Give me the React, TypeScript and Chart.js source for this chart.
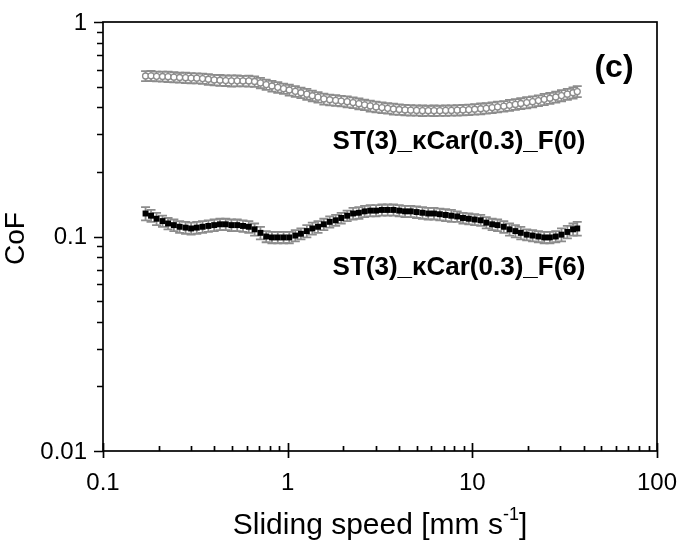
import React, { useEffect, useRef } from "react";
import { Chart, registerables } from "chart.js";

Chart.register(...registerables);

// ---- data ----
const speeds = [
  0.17, 0.182, 0.195, 0.21, 0.225, 0.242, 0.26, 0.28, 0.3, 0.322, 0.346, 0.372, 0.4, 0.43, 0.462, 0.496, 0.533,
  0.573, 0.616, 0.662, 0.712, 0.765, 0.822, 0.884, 0.95, 1.02, 1.1, 1.18, 1.27, 1.36, 1.46, 1.57, 1.69, 1.82,
  1.95, 2.1, 2.26, 2.43, 2.61, 2.8, 3.01, 3.24, 3.48, 3.74, 4.02, 4.32, 4.64, 4.99, 5.37, 5.77, 6.2, 6.67, 7.17,
  7.7, 8.28, 8.9, 9.57, 10.3, 11.1, 11.9, 12.8, 13.7, 14.8, 15.9, 17.1, 18.3, 19.7, 21.2, 22.8, 24.5, 26.3, 28.3,
  30.4, 32.7, 35.1, 37.0,
];
const cofF0 = [
  0.56, 0.561, 0.558, 0.557, 0.556, 0.553, 0.551, 0.55, 0.548, 0.547, 0.545, 0.541, 0.537, 0.535, 0.533, 0.532,
  0.532, 0.531, 0.531, 0.528, 0.52, 0.511, 0.503, 0.496, 0.489, 0.482, 0.475, 0.468, 0.461, 0.453, 0.446, 0.438,
  0.434, 0.431, 0.428, 0.425, 0.421, 0.416, 0.411, 0.406, 0.402, 0.399, 0.396, 0.393, 0.391, 0.389, 0.388, 0.387,
  0.386, 0.386, 0.386, 0.386, 0.387, 0.387, 0.388, 0.389, 0.39, 0.392, 0.394, 0.396, 0.399, 0.402, 0.405, 0.409,
  0.413, 0.417, 0.421, 0.425, 0.43, 0.436, 0.441, 0.447, 0.454, 0.461, 0.468, 0.474,
];
const errF0 = [
  0.03, 0.031, 0.029, 0.03, 0.031, 0.03, 0.029, 0.031, 0.03, 0.029, 0.03, 0.031, 0.03, 0.031, 0.03, 0.032,
  0.031, 0.03, 0.031, 0.03, 0.029, 0.028, 0.029, 0.028, 0.027, 0.028, 0.027, 0.026, 0.027, 0.026, 0.025, 0.026,
  0.025, 0.025, 0.024, 0.025, 0.024, 0.024, 0.023, 0.024, 0.023, 0.023, 0.022, 0.023, 0.022, 0.022, 0.022, 0.021,
  0.022, 0.021, 0.022, 0.021, 0.022, 0.021, 0.022, 0.022, 0.022, 0.022, 0.023, 0.022, 0.023, 0.023, 0.023, 0.024,
  0.024, 0.024, 0.025, 0.025, 0.025, 0.026, 0.026, 0.026, 0.027, 0.027, 0.028, 0.028,
];
const cofF6 = [
  0.128, 0.125, 0.121, 0.118, 0.115, 0.113, 0.111, 0.11, 0.109, 0.11, 0.111, 0.112, 0.113, 0.114, 0.114, 0.113,
  0.113, 0.112, 0.111, 0.108, 0.104, 0.1, 0.099, 0.099, 0.099, 0.099, 0.101, 0.103, 0.106, 0.109, 0.111, 0.114,
  0.117, 0.119, 0.122, 0.125, 0.128, 0.129, 0.131, 0.132, 0.132, 0.133, 0.133, 0.133, 0.132, 0.131, 0.131, 0.13,
  0.129, 0.128, 0.128, 0.127, 0.126, 0.125, 0.124, 0.122, 0.121, 0.12, 0.119, 0.116, 0.114, 0.113, 0.111, 0.108,
  0.106, 0.104, 0.102, 0.101, 0.1, 0.099, 0.099, 0.1, 0.102, 0.105, 0.108, 0.109,
];
const errF6 = [
  0.009, 0.008, 0.008, 0.007, 0.007, 0.007, 0.007, 0.007, 0.007, 0.007, 0.007, 0.007, 0.007, 0.007, 0.007, 0.007,
  0.007, 0.007, 0.007, 0.007, 0.007, 0.006, 0.006, 0.006, 0.006, 0.006, 0.006, 0.006, 0.007, 0.007, 0.007, 0.007,
  0.007, 0.007, 0.007, 0.007, 0.008, 0.008, 0.008, 0.008, 0.008, 0.008, 0.008, 0.008, 0.008, 0.008, 0.008, 0.008,
  0.008, 0.008, 0.008, 0.008, 0.008, 0.008, 0.007, 0.007, 0.007, 0.007, 0.007, 0.007, 0.007, 0.007, 0.007, 0.007,
  0.007, 0.007, 0.006, 0.006, 0.006, 0.006, 0.006, 0.006, 0.007, 0.007, 0.007, 0.008,
];

const xTickValues = [0.1, 1, 10, 100];
const xTickLabels = ["0.1", "1", "10", "100"];
const yTickValues = [0.01, 0.1, 1];
const yTickLabels = ["0.01", "0.1", "1"];
const minorMultipliers = [2, 3, 4, 5, 6, 7, 8, 9];

const labelF0 = "ST(3)_\u03BACar(0.3)_F(0)";
const labelF6 = "ST(3)_\u03BACar(0.3)_F(6)";
const panelLabel = "(c)";
const xTitleMain = "Sliding speed [mm s";
const xTitleSup = "-1";
const xTitleEnd = "]";
const yTitle = "CoF";

const FONT = '"Liberation Sans", Arial, sans-serif';
const ERR_COLOR = "#8c8c8c";

const errorBarPlugin = {
  id: "errorBars",
  beforeDatasetsDraw(chart: any) {
    const ctx = chart.ctx;
    const xs = chart.scales.x;
    const ys = chart.scales.y;
    ctx.save();
    ctx.strokeStyle = ERR_COLOR;
    ctx.lineWidth = 1.8;
    chart.data.datasets.forEach((ds: any) => {
      const errs: number[] = ds.errors || [];
      ds.data.forEach((p: any, i: number) => {
        const e = errs[i] || 0;
        const px = xs.getPixelForValue(p.x);
        const top = ys.getPixelForValue(p.y + e);
        const bot = ys.getPixelForValue(p.y - e);
        ctx.beginPath();
        ctx.moveTo(px, top);
        ctx.lineTo(px, bot);
        ctx.moveTo(px - 4.5, top);
        ctx.lineTo(px + 4.5, top);
        ctx.moveTo(px - 4.5, bot);
        ctx.lineTo(px + 4.5, bot);
        ctx.stroke();
      });
    });
    ctx.restore();
  },
};

const axesPlugin = {
  id: "customAxes",
  afterDatasetsDraw(chart: any) {
    const ctx = chart.ctx;
    const xs = chart.scales.x;
    const ys = chart.scales.y;
    const { left, right, top, bottom } = chart.chartArea;
    ctx.save();
    ctx.strokeStyle = "#000";
    ctx.fillStyle = "#000";
    ctx.lineWidth = 1.7;
    ctx.strokeRect(left, top, right - left, bottom - top);

    // y ticks (outward)
    ctx.beginPath();
    yTickValues.forEach((v) => {
      const py = Math.round(ys.getPixelForValue(v)) + 0.5;
      ctx.moveTo(left - 9, py);
      ctx.lineTo(left, py);
    });
    yTickValues.slice(0, -1).forEach((d) => {
      minorMultipliers.forEach((m) => {
        const py = Math.round(ys.getPixelForValue(d * m)) + 0.5;
        ctx.moveTo(left - 6, py);
        ctx.lineTo(left, py);
      });
    });
    // x ticks
    xTickValues.forEach((v) => {
      const px = Math.round(xs.getPixelForValue(v)) + 0.5;
      ctx.moveTo(px, bottom - 8);
      ctx.lineTo(px, bottom + 7);
    });
    xTickValues.slice(0, -1).forEach((d) => {
      minorMultipliers.forEach((m) => {
        const px = Math.round(xs.getPixelForValue(d * m)) + 0.5;
        ctx.moveTo(px, bottom - 5);
        ctx.lineTo(px, bottom);
      });
    });
    ctx.stroke();

    // tick labels
    ctx.font = `24px ${FONT}`;
    ctx.textAlign = "right";
    ctx.textBaseline = "middle";
    yTickValues.forEach((v, i) => {
      ctx.fillText(yTickLabels[i], left - 16, ys.getPixelForValue(v) + 1);
    });
    ctx.textAlign = "center";
    ctx.textBaseline = "top";
    xTickValues.forEach((v, i) => {
      ctx.fillText(xTickLabels[i], xs.getPixelForValue(v), bottom + 20);
    });

    // axis titles
    const big = `30px ${FONT}`;
    const small = `18px ${FONT}`;
    ctx.textBaseline = "alphabetic";
    ctx.font = big;
    const mainW = ctx.measureText(xTitleMain).width;
    const endW = ctx.measureText(xTitleEnd).width;
    ctx.font = small;
    const supW = ctx.measureText(xTitleSup).width;
    const totalW = mainW + supW + endW;
    const cx = 380;
    const baseY = 534;
    const x0 = cx - totalW / 2;
    ctx.textAlign = "left";
    ctx.font = big;
    ctx.fillText(xTitleMain, x0, baseY);
    ctx.font = small;
    ctx.fillText(xTitleSup, x0 + mainW, baseY - 14);
    ctx.font = big;
    ctx.fillText(xTitleEnd, x0 + mainW + supW, baseY);

    ctx.save();
    ctx.translate(16, (top + bottom) / 2 + 2);
    ctx.rotate(-Math.PI / 2);
    ctx.textAlign = "center";
    ctx.textBaseline = "middle";
    ctx.font = `28px ${FONT}`;
    ctx.fillText(yTitle, 0, 0);
    ctx.restore();

    // annotations
    ctx.textAlign = "center";
    ctx.textBaseline = "middle";
    ctx.font = `bold 26px ${FONT}`;
    ctx.fillText(labelF0, 459, 142);
    ctx.fillText(labelF6, 459, 268);
    ctx.font = `bold 32px ${FONT}`;
    ctx.fillText(panelLabel, 614, 68);
    ctx.restore();
  },
};

export default function App() {
  const canvasRef = useRef<HTMLCanvasElement | null>(null);
  useEffect(() => {
    if (!canvasRef.current) return;
    const chart = new Chart(canvasRef.current, {
      type: "scatter",
      data: {
        datasets: [
          {
            label: "F(0)",
            data: speeds.map((s, i) => ({ x: s, y: cofF0[i] })),
            errors: errF0,
            pointStyle: "circle",
            pointRadius: 3,
            pointBorderWidth: 1.3,
            pointBackgroundColor: "#ffffff",
            pointBorderColor: "#8c8c8c",
            showLine: false,
          } as any,
          {
            label: "F(6)",
            data: speeds.map((s, i) => ({ x: s, y: cofF6[i] })),
            errors: errF6,
            pointStyle: "rect",
            pointRadius: 4.2,
            pointBorderWidth: 0,
            pointBackgroundColor: "#000000",
            pointBorderColor: "#000000",
            showLine: false,
          } as any,
        ],
      },
      options: {
        responsive: false,
        animation: false,
        layout: { padding: { left: 103, right: 26, top: 22, bottom: 90 } },
        plugins: { legend: { display: false }, tooltip: { enabled: false } },
        scales: {
          x: { type: "logarithmic", min: 0.1, max: 100, display: false },
          y: { type: "logarithmic", min: 0.01, max: 1, display: false },
        },
      },
      plugins: [errorBarPlugin, axesPlugin],
    });
    return () => chart.destroy();
  }, []);
  return (
    <div style={{ position: "fixed", left: 0, top: 0, width: 683, height: 541, background: "#fff" }}>
      <canvas ref={canvasRef} width={683} height={541} style={{ display: "block" }} />
    </div>
  );
}
